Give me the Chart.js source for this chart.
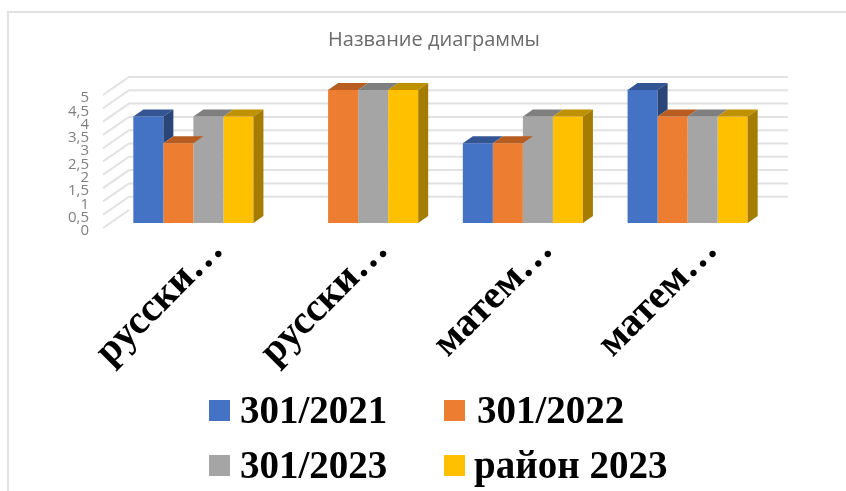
<!DOCTYPE html>
<html>
<head>
<meta charset="utf-8">
<script src="https://cdn.jsdelivr.net/npm/chart.js@4"></script>
<style>
  html, body { margin: 0; background: #fff; }
  #wrap { position: relative; width: 846px; height: 491px; overflow: hidden; }
  #frame { position: absolute; left: 7px; top: 11px; width: 860px; height: 520px; border-left: 2px solid #e2e2e2; border-top: 2px solid #e2e2e2; }
  #chart { position: relative; }
  .legend-item { position: absolute; font: bold 39px "Liberation Serif", serif; color: #000; line-height: 40px; white-space: nowrap; }
  .legend-item i { position: absolute; top: 10px; width: 21px; height: 21px; }
  .legend-item span { position: absolute; }
</style>
</head>
<body>
<div id="wrap">
  <div id="frame"></div>
  <canvas id="chart" width="846" height="491"></canvas>
</div>
<script>
var shortLabels = ['русски…', 'русски…', 'матем…', 'матем…'];
var series2021 = [4, null, 3, 5];
var series2022 = [3, 5, 3, 4];
var series2023 = [4, 5, 4, 4];
var seriesRayon = [4, 5, 4, 4];
var seriesNames = ['301/2021', '301/2022', '301/2023', 'район 2023'];
var faceColors = ['#4472c4', '#ed7d31', '#a5a5a5', '#ffc000'];
var topColors = ['#335593', '#b85d22', '#7f7f7f', '#bf9000'];
var sideColors = ['#2a4678', '#9c4f1d', '#6b6b6b', '#a67c00'];
var yTicks = [0, 0.5, 1, 1.5, 2, 2.5, 3, 3.5, 4, 4.5, 5];
var legendSpots = [[209, 390, 31], [444, 390, 33], [209, 445, 31], [444, 445, 30]];

var depthX = 10, depthY = 7;

// back wall, side wall and the 3d faces of the bars
var depthPlugin = {
    id: 'depth',
    afterLayout: function (chart) {
        // title is centred on the picture's 434, not on the plot
        chart.titleBlock.left = 22;
        chart.titleBlock.right = 846;
    },
    beforeDatasetsDraw: function (chart) {
        var ctx = chart.ctx, y = chart.scales.y;
        var left = 129, right = 788;
        ctx.save();
        ctx.strokeStyle = '#e2e2e2';
        ctx.lineWidth = 2;
        yTicks.forEach(function (t) {
            var py = y.getPixelForValue(t);
            ctx.beginPath();
            ctx.moveTo(left - 26, py + 5);
            ctx.lineTo(left, py - 13);
            if (t > 0) ctx.lineTo(right, py - 13);
            ctx.stroke();
        });
        ctx.restore();
    },
    afterDatasetsDraw: function (chart) {
        var ctx = chart.ctx;
        ctx.save();
        chart.data.datasets.forEach(function (ds, i) {
            chart.getDatasetMeta(i).data.forEach(function (bar, j) {
                if (ds.data[j] === null) return;
                var p = bar.getProps(['x', 'y', 'base', 'width'], true);
                var l = p.x - p.width / 2, r = p.x + p.width / 2;
                ctx.fillStyle = topColors[i];
                ctx.beginPath();
                ctx.moveTo(l, p.y);
                ctx.lineTo(l + depthX, p.y - depthY);
                ctx.lineTo(r + depthX, p.y - depthY);
                ctx.lineTo(r, p.y);
                ctx.closePath();
                ctx.fill();
                // side face is hidden when the next bar is as tall
                var next = chart.data.datasets[i + 1];
                var nextVal = next ? next.data[j] : null;
                if (nextVal === null || nextVal < ds.data[j]) {
                    var nextY = nextVal === null ? p.base : chart.scales.y.getPixelForValue(nextVal);
                    ctx.fillStyle = sideColors[i];
                    ctx.beginPath();
                    ctx.moveTo(r, p.y);
                    ctx.lineTo(r + depthX, p.y - depthY);
                    ctx.lineTo(r + depthX, nextY - depthY);
                    ctx.lineTo(r, nextY);
                    ctx.closePath();
                    ctx.fill();
                }
            });
        });
        ctx.restore();
    }
};

var seriesData = [series2021, series2022, series2023, seriesRayon];

var chart = new Chart(document.getElementById('chart').getContext('2d'), {
    type: 'bar',
    data: {
        labels: shortLabels,
        datasets: seriesNames.map(function (name, i) {
            return {
                label: name,
                data: seriesData[i],
                backgroundColor: faceColors[i],
                borderWidth: 0,
                categoryPercentage: 0.729,
                barPercentage: 1
            };
        })
    },
    options: {
        responsive: false,
        animation: false,
        layout: { padding: { right: 76, bottom: 0, top: 0 } },
        plugins: {
            legend: { display: false },
            tooltip: { enabled: false },
            title: {
                display: true,
                text: 'Название диаграммы',
                color: '#6b6b6b',
                font: { family: '"Open Sans", sans-serif', size: 20, weight: 'normal' },
                padding: { top: 28, bottom: 38 }
            }
        },
        scales: {
            x: {
                grid: { display: false },
                border: { display: false },
                afterFit: function (scale) { scale.height = 491 - 223; },
                ticks: {
                    color: '#000',
                    maxRotation: 45,
                    minRotation: 45,
                    autoSkip: false,
                    labelOffset: 24,
                    padding: -4,
                    font: { family: '"Liberation Serif", serif', size: 40, weight: 'bold' }
                }
            },
            y: {
                min: 0,
                max: 5,
                afterFit: function (scale) { scale.width = 111; },
                afterBuildTicks: function (scale) {
                    scale.ticks = yTicks.map(function (v) { return { value: v }; });
                },
                grid: { display: false },
                border: { display: false },
                ticks: {
                    color: '#7f7f7f',
                    autoSkip: false,
                    padding: 14,
                    labelOffset: 8,
                    callback: function (v) { return String(v).replace('.', ','); },
                    font: { family: '"Open Sans", sans-serif', size: 15 }
                }
            }
        }
    },
    plugins: [depthPlugin]
});

// legend keeps the picture's two left aligned columns
var wrap = document.getElementById('wrap');
seriesNames.forEach(function (name, i) {
    var item = document.createElement('div');
    item.className = 'legend-item';
    item.style.left = legendSpots[i][0] + 'px';
    item.style.top = legendSpots[i][1] + 'px';
    var box = document.createElement('i');
    box.style.background = faceColors[i];
    var text = document.createElement('span');
    text.style.left = legendSpots[i][2] + 'px';
    text.textContent = name;
    item.appendChild(box);
    item.appendChild(text);
    wrap.appendChild(item);
});
</script>
</body>
</html>
